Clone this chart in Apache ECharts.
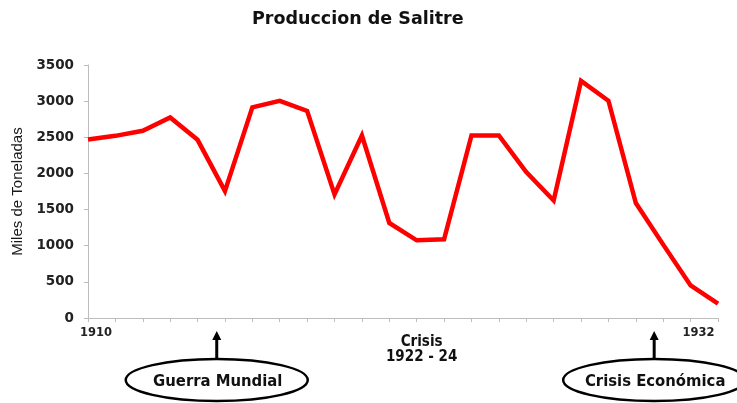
<!DOCTYPE html>
<html>
<head>
<meta charset="utf-8">
<script src="https://cdn.jsdelivr.net/npm/echarts@6/dist/echarts.min.js"></script>
<style>html,body{margin:0;padding:0;background:#fff}#c{width:737px;height:403px}</style>
</head>
<body>
<div id="c"></div>
<script>
var years = ['1910','1911','1912','1913','1914','1915','1916','1917','1918','1919','1920','1921','1922','1923','1924','1925','1926','1927','1928','1929','1930','1931','1932','1933'];
var production = [2470, 2520, 2590, 2775, 2465, 1755, 2915, 3005, 2865, 1710, 2525, 1315, 1075, 1090, 2525, 2525, 2020, 1625, 3280, 3005, 1590, 1015, 450, 200];
var shownYears = ['1910','1932'];
var yTicks = {min: 0, max: 3500, interval: 500};

var chart = echarts.init(document.getElementById('c'), null, {renderer: 'canvas'});
var bold = 'DejaVu Sans';
var cond = "'DejaVu Sans Condensed', 'DejaVu Sans'";
chart.setOption({
  animation: false,
  backgroundColor: '#fff',
  title: {
    text: 'Produccion de Salitre',
    left: 252,
    top: 10,
    padding: 0,
    textStyle: {fontFamily: bold, fontWeight: 'bold', fontSize: 17.5, color: '#111'}
  },
  grid: {left: 88, right: 19, top: 65, bottom: 85},
  xAxis: {
    type: 'category',
    data: years,
    boundaryGap: false,
    axisLine: {lineStyle: {color: '#bdbdbd', width: 1}},
    axisTick: {show: true, interval: 0, length: 4, lineStyle: {color: '#bdbdbd'}},
    axisLabel: {
      interval: 0,
      margin: 9,
      padding: [0, 0, 0, 16],
      fontFamily: bold, fontWeight: 'bold', fontSize: 11.5, color: '#222',
      formatter: function (v) { return shownYears.indexOf(v) >= 0 ? v : ''; }
    },
    splitLine: {show: false}
  },
  yAxis: {
    type: 'value',
    min: yTicks.min, max: yTicks.max, interval: yTicks.interval,
    name: 'Miles de Toneladas',
    nameLocation: 'middle',
    nameGap: 59,
    nameTextStyle: {fontFamily: 'Liberation Sans', fontSize: 15, color: '#1a1a1a'},
    axisLine: {show: true, lineStyle: {color: '#bdbdbd', width: 1}},
    axisTick: {show: true, length: 4, lineStyle: {color: '#bdbdbd'}},
    axisLabel: {
      margin: 14, fontFamily: bold, fontWeight: 'bold', fontSize: 13.5, color: '#222',
      formatter: function (v) { return String(v); }
    },
    splitLine: {show: false}
  },
  series: [{
    type: 'line',
    data: production,
    showSymbol: false,
    symbol: 'none',
    lineStyle: {color: '#ff0000', width: 4.5, join: 'miter'}
  }]
});

function annot() {
  var x15 = chart.convertToPixel({xAxisIndex: 0}, 4);
  var x16 = chart.convertToPixel({xAxisIndex: 0}, 5);
  var xa = x15 + (x16 - x15) * 0.7;
  var x30 = chart.convertToPixel({xAxisIndex: 0}, 20);
  var x31 = chart.convertToPixel({xAxisIndex: 0}, 21);
  var xb = x30 + (x31 - x30) * 0.67;
  var x22 = chart.convertToPixel({xAxisIndex: 0}, 12);
  var x23 = chart.convertToPixel({xAxisIndex: 0}, 13);
  var xc = x22 + (x23 - x22) * 0.18;
  function arrow(x) {
    return [
      {type: 'line', shape: {x1: x, y1: 359, x2: x, y2: 338}, style: {stroke: '#000', lineWidth: 3}},
      {type: 'polygon', shape: {points: [[x, 331], [x - 4.5, 340], [x + 4.5, 340]]}, style: {fill: '#000'}}
    ];
  }
  function bubble(x, label, tx) {
    return [
      {type: 'ellipse', shape: {cx: x, cy: 380, rx: 91, ry: 21}, style: {fill: '#fff', stroke: '#000', lineWidth: 2.5}},
      {type: 'text', x: tx, y: 382, style: {text: label, align: 'center', verticalAlign: 'middle', font: 'bold 16.5px ' + cond, fill: '#111'}}
    ];
  }
  var els = [].concat(
    arrow(xa), bubble(xa, 'Guerra Mundial', xa + 1),
    arrow(xb), bubble(xb, 'Crisis Económica', xb + 1),
    [{type: 'text', x: xc, y: 349.5, style: {text: 'Crisis\n1922 - 24', align: 'center', verticalAlign: 'middle', lineHeight: 15, font: 'bold 15px ' + cond, fill: '#111'}}]
  );
  chart.setOption({graphic: {elements: els}});
}
annot();
</script>
</body>
</html>
